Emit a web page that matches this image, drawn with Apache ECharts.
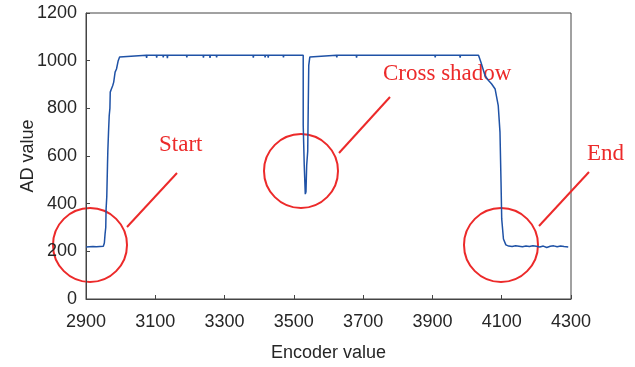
<!DOCTYPE html>
<html>
<head>
<meta charset="utf-8">
<script src="https://cdn.jsdelivr.net/npm/echarts@6/dist/echarts.min.js"></script>
<style>
  html, body { margin: 0; padding: 0; background: #fff; }
  #chart { width: 635px; height: 367px; }
</style>
</head>
<body>
<div id="chart"></div>
<script>
// encoder position vs AD reading
const encoder = [
  2900, 2905, 2910, 2915, 2920, 2925, 2930, 2935, 2940, 2945, 2950,
  2953, 2955, 2957, 2958, 2960, 2962, 2963, 2965, 2967, 2969, 2970, 2973, 2977, 2980, 2984, 2988, 2993, 2997, 3001,
  3074, 3075, 3076, 3103, 3104, 3105, 3122, 3123, 3124, 3134, 3135, 3136, 3190, 3191, 3192,
  3238, 3239, 3240, 3257, 3258, 3259, 3276, 3277, 3278, 3382, 3383, 3384, 3416, 3417, 3418,
  3425, 3426, 3427, 3469, 3470, 3471,
  3527, 3527, 3530, 3533, 3535, 3537, 3540, 3543, 3546, 3549,
  3623, 3624, 3625, 3680, 3681, 3682, 3907, 3908, 3909, 3979, 3980, 3981,
  4033, 4040, 4052, 4060, 4071, 4081, 4090, 4095, 4098, 4100, 4105, 4112,
  4120, 4130, 4140, 4150, 4160, 4170, 4180, 4190, 4200, 4210, 4220, 4230, 4240, 4250, 4260, 4270, 4280, 4292
];
const adValue = [
  218, 216, 219, 217, 220, 217, 219, 216, 220, 218, 221,
  235, 272, 300, 377, 430, 560, 620, 700, 769, 800, 868, 880, 895, 910, 952, 965, 1000, 1015, 1023,
  1023, 1012, 1023, 1023, 1013, 1023, 1023, 1014, 1023, 1023, 1011, 1023, 1023, 1014, 1023,
  1023, 1013, 1023, 1023, 1012, 1023, 1023, 1014, 1023, 1023, 1013, 1023, 1023, 1014, 1023,
  1023, 1013, 1023, 1023, 1014, 1023,
  1023, 730, 560, 440, 450, 560, 620, 980, 1015, 1023,
  1023, 1014, 1023, 1023, 1013, 1023, 1023, 1014, 1023, 1023, 1013, 1023,
  1023, 993, 937, 920, 902, 881, 811, 700, 491, 336, 252, 227,
  222, 220, 223, 221, 219, 222, 220, 223, 221, 218, 222, 216, 221, 223, 219, 222, 220, 218
];
const xTicks = { min: 2900, max: 4300, step: 200 };
const yTicks = { min: 0, max: 1200, step: 200 };

const red = '#ec2a2a';
const axisColor = '#444';
const textColor = '#262626';

const chart = echarts.init(document.getElementById('chart'));
chart.setOption({
  animation: false,
  grid: {
    left: 86, right: 64, top: 13, bottom: 67,
    show: true, borderColor: axisColor, borderWidth: 1
  },
  xAxis: {
    type: 'value',
    min: xTicks.min, max: xTicks.max, interval: xTicks.step,
    name: 'Encoder value',
    nameLocation: 'middle',
    nameGap: 45,
    nameTextStyle: { fontFamily: 'Liberation Sans', fontSize: 18, color: textColor },
    axisLine: { lineStyle: { color: axisColor } },
    axisTick: { inside: true, length: 4, lineStyle: { color: axisColor } },
    axisLabel: { margin: 14, fontFamily: 'Liberation Sans', fontSize: 18, color: textColor, formatter: v => String(v) },
    splitLine: { show: false }
  },
  yAxis: {
    type: 'value',
    min: yTicks.min, max: yTicks.max, interval: yTicks.step,
    name: 'AD value',
    nameLocation: 'middle',
    nameGap: 58,
    nameMoveOverlap: false,
    nameTextStyle: { fontFamily: 'Liberation Sans', fontSize: 18, color: textColor, verticalAlign: 'middle' },
    axisLine: { show: true, lineStyle: { color: axisColor } },
    axisTick: { show: true, inside: true, length: 4, lineStyle: { color: axisColor } },
    axisLabel: { margin: 9, fontFamily: 'Liberation Sans', fontSize: 18, color: textColor, formatter: v => String(v) },
    splitLine: { show: false }
  },
  series: [{
    type: 'line',
    showSymbol: false,
    lineStyle: { color: '#1f52a6', width: 1.5 },
    data: encoder.map((x, i) => [x, adValue[i]])
  }],
  graphic: [
    // annotations
    { type: 'circle', shape: { cx: 90, cy: 245, r: 37 }, style: { fill: 'none', stroke: red, lineWidth: 2 } },
    { type: 'circle', shape: { cx: 301, cy: 171, r: 37 }, style: { fill: 'none', stroke: red, lineWidth: 2 } },
    { type: 'circle', shape: { cx: 501, cy: 245, r: 37 }, style: { fill: 'none', stroke: red, lineWidth: 2 } },
    { type: 'line', shape: { x1: 127, y1: 227, x2: 177, y2: 173 }, style: { stroke: red, lineWidth: 2 } },
    { type: 'line', shape: { x1: 339, y1: 153, x2: 390, y2: 97 }, style: { stroke: red, lineWidth: 2 } },
    { type: 'line', shape: { x1: 539, y1: 226, x2: 589, y2: 172 }, style: { stroke: red, lineWidth: 2 } },
    { type: 'text', style: { x: 159, y: 145, text: 'Start', fill: red, font: '23px "Liberation Serif"', verticalAlign: 'middle' } },
    { type: 'text', style: { x: 383, y: 74, text: 'Cross shadow', fill: red, font: '23px "Liberation Serif"', verticalAlign: 'middle' } },
    { type: 'text', style: { x: 587, y: 154, text: 'End', fill: red, font: '23px "Liberation Serif"', verticalAlign: 'middle' } }
  ]
});
</script>
</body>
</html>
